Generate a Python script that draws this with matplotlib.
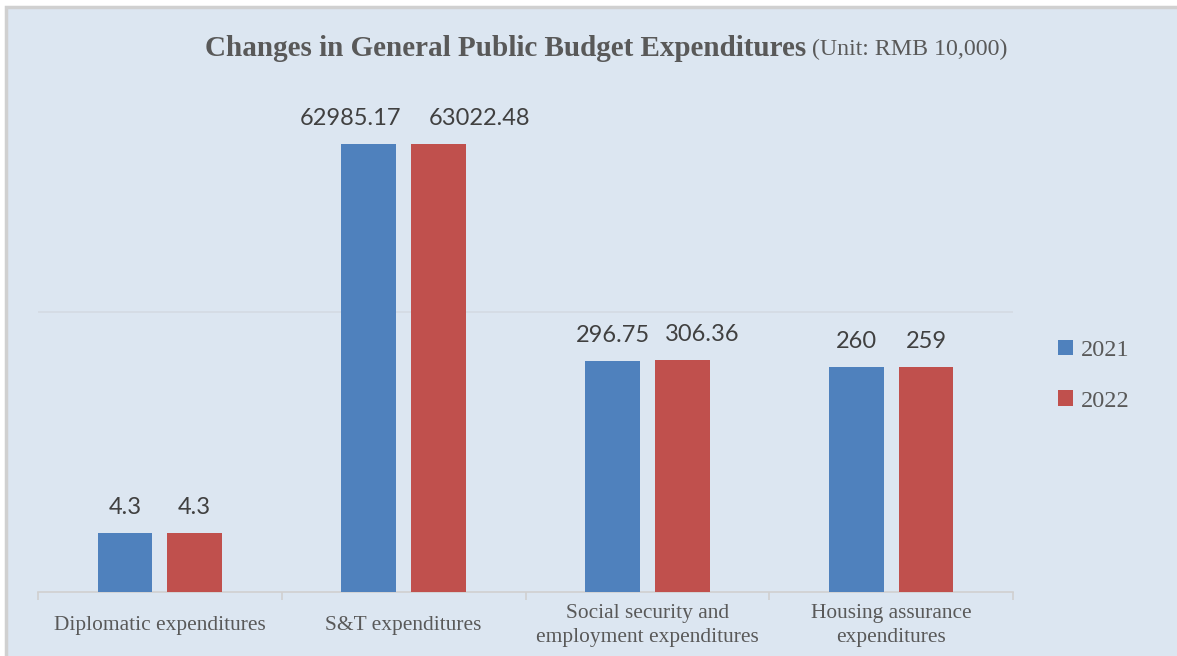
import numpy as np
import matplotlib.pyplot as plt
from matplotlib.patches import Rectangle

categories = ["Diplomatic expenditures", "S&T expenditures",
              "Social security and\nemployment expenditures",
              "Housing assurance\nexpenditures"]
values_2021 = [4.3, 62985.17, 296.75, 260]
values_2022 = [4.3, 63022.48, 306.36, 259]
labels_2021 = ["4.3", "62985.17", "296.75", "260"]
labels_2022 = ["4.3", "63022.48", "306.36", "259"]

# horizontal nudges (pixels) that keep the data labels apart
nudge_2021 = [0, -18, 0, 0]
nudge_2022 = [0, 41, 20, 0]

blue = '#4f81bd'
red = '#c0504d'
txt = '#595959'
bg = '#dce6f1'

fig = plt.figure(figsize=(11.77, 6.56), dpi=100, facecolor='white')
fig.patches.append(Rectangle((6 / 1177, -0.01), 1.0, (656 - 7) / 656 + 0.01,
                             transform=fig.transFigure, facecolor=bg,
                             edgecolor='#d0d0d0', linewidth=2.5, zorder=-10))

ax = fig.add_axes([38 / 1177, 64 / 656, (1013 - 38) / 1177, (592 - 32) / 656])
ax.set_facecolor('none')

x = np.arange(len(categories))
off = 0.143
w = 0.225
ax.bar(x - off, values_2021, w, color=blue, label='2021', zorder=3)
ax.bar(x + off, values_2022, w, color=red, label='2022', zorder=3)

ax.set_yscale('log')
ax.set_ylim(1, 1e6)
ax.set_xlim(-0.5, 3.5)
ax.axhline(1000, color='#d4dbe3', linewidth=1.2, zorder=1)

px = 0.72  # points per pixel at dpi 100
for i in range(len(categories)):
    ax.annotate(labels_2021[i], (x[i] - off, values_2021[i]),
                xytext=(nudge_2021[i] * px, 19 * px),
                textcoords='offset points', ha='center', va='baseline',
                fontsize=17, color='#404040', family='Lato')
    ax.annotate(labels_2022[i], (x[i] + off, values_2022[i]),
                xytext=(nudge_2022[i] * px, 19 * px),
                textcoords='offset points', ha='center', va='baseline',
                fontsize=17, color='#404040', family='Lato')

for s in ['top', 'right', 'left']:
    ax.spines[s].set_visible(False)
ax.spines['bottom'].set_color('#d0d0d0')
ax.spines['bottom'].set_linewidth(1.2)
ax.set_yticks([])
ax.minorticks_off()
ax.set_xticks(x)
ax.set_xticklabels(categories, fontsize=15.4, color=txt, family='Liberation Serif',
                   linespacing=1.35, va='center')
ax.tick_params(axis='x', length=0, pad=24)
ax.set_xticks(np.arange(-0.5, 4.0, 1.0), minor=True)
ax.tick_params(axis='x', which='minor', length=6, color='#d0d0d0', width=1.2)

fig.text(806 / 1177, 1 - 48 / 656, "Changes in General Public Budget Expenditures",
         ha='right', va='center', fontsize=21, fontweight='bold',
         color=txt, family='Liberation Serif')
fig.text(812 / 1177, 1 - 49 / 656, "(Unit: RMB 10,000)", ha='left', va='center',
         fontsize=17.2, color=txt, family='Liberation Serif')

leg = ax.legend(loc='center left', bbox_to_anchor=(1.024, 0.386), frameon=False,
                prop={'family': 'Liberation Serif', 'size': 17.5},
                handlelength=0.6, handleheight=0.6, handletextpad=0.35,
                labelspacing=1.2)
for t in leg.get_texts():
    t.set_color(txt)

fig.savefig('out.png', dpi=100, facecolor='white')
